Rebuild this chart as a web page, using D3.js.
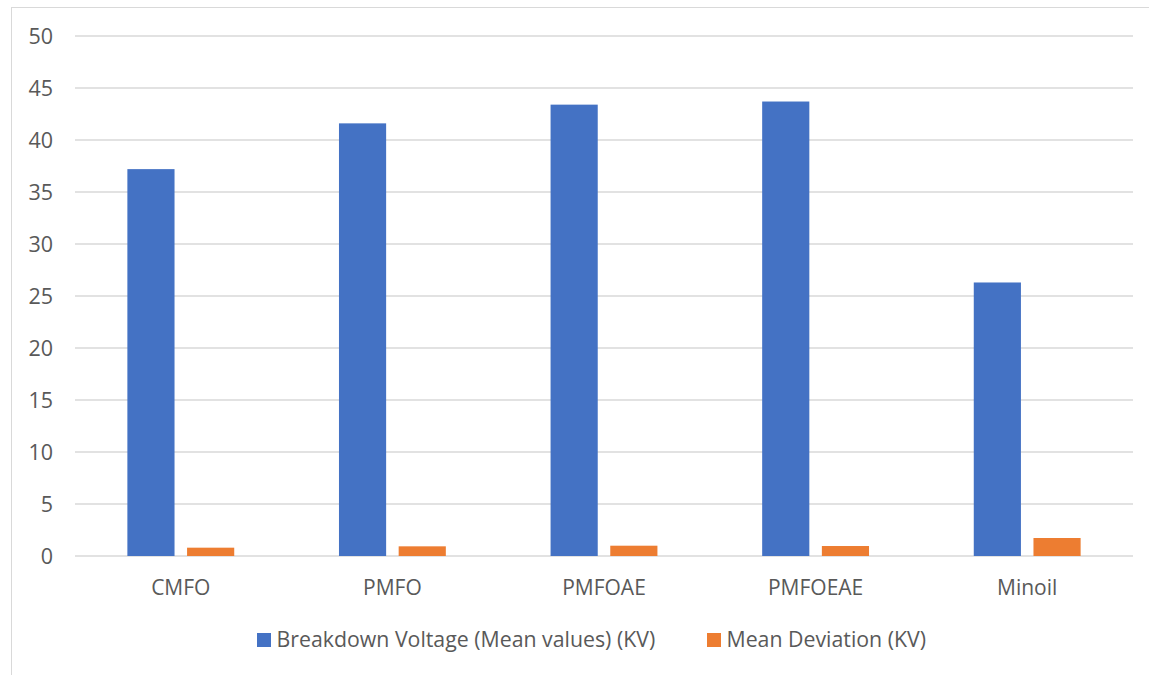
<!DOCTYPE html>
<html>
<head>
<meta charset="utf-8">
<script src="https://cdn.jsdelivr.net/npm/d3@7"></script>
<style>
  html, body { margin: 0; padding: 0; background: #fff; }
  svg { display: block; }
  text { font-family: "Open Sans", Lato, sans-serif; fill: #595959; }
</style>
</head>
<body>
<svg id="chart" width="1149" height="675"></svg>
<script>
// Oil samples compared
const categories = ["CMFO", "PMFO", "PMFOAE", "PMFOEAE", "Minoil"];
const seriesNames = ["Breakdown Voltage (Mean values) (KV)", "Mean Deviation (KV)"];
const breakdownVoltage = [37.2, 41.6, 43.4, 43.7, 26.3];
const meanDeviation = [0.8, 0.93, 0.99, 0.96, 1.73];
const yTicks = [0, 5, 10, 15, 20, 25, 30, 35, 40, 45, 50];
const colors = ["#4472C4", "#ED7D31"];

const seriesValues = [breakdownVoltage, meanDeviation];

const svg = d3.select("#chart");

// chart frame
svg.append("rect")
  .attr("x", 11.5).attr("y", 7.5)
  .attr("width", 1160).attr("height", 700)
  .attr("fill", "none").attr("stroke", "#d9d9d9").attr("stroke-width", 1);

const plot = { left: 75, right: 1133, top: 36, bottom: 556 };

const y = d3.scaleLinear().domain([0, 50]).range([plot.bottom, plot.top]);

const x0 = d3.scaleBand()
  .domain(categories)
  .range([plot.left, plot.right])
  .paddingInner(0.495)
  .paddingOuter(0.2475);

const x1 = d3.scaleBand()
  .domain(seriesNames)
  .range([0, x0.bandwidth()])
  .paddingInner(0.21)
  .paddingOuter(0);

// horizontal gridlines
svg.append("g")
  .selectAll("line")
  .data(yTicks)
  .join("line")
  .attr("x1", plot.left).attr("x2", plot.right)
  .attr("y1", d => y(d)).attr("y2", d => y(d))
  .attr("stroke", "#d9d9d9").attr("stroke-width", 1.3);

// y tick labels
svg.append("g")
  .selectAll("text")
  .data(yTicks)
  .join("text")
  .attr("x", 53)
  .attr("y", d => y(d))
  .attr("dy", "0.36em")
  .attr("text-anchor", "end")
  .attr("font-size", 21.5)
  .text(d => d);

// bars
const groups = svg.append("g")
  .selectAll("g")
  .data(categories)
  .join("g")
  .attr("transform", d => `translate(${x0(d)},0)`);

groups.selectAll("rect")
  .data((c, i) => seriesNames.map((s, k) => ({ series: s, k, value: seriesValues[k][i] })))
  .join("rect")
  .attr("x", d => x1(d.series))
  .attr("width", x1.bandwidth())
  .attr("y", d => y(d.value))
  .attr("height", d => y(0) - y(d.value))
  .attr("fill", d => colors[d.k]);

// category labels
svg.append("g")
  .selectAll("text")
  .data(categories)
  .join("text")
  .attr("x", d => x0(d) + x0.bandwidth() / 2)
  .attr("y", 595)
  .attr("text-anchor", "middle")
  .attr("font-size", 21)
  .text(d => d);

// legend
const legendItems = [
  { name: seriesNames[0], color: colors[0], x: 257 },
  { name: seriesNames[1], color: colors[1], x: 707 }
];
const legend = svg.append("g")
  .selectAll("g")
  .data(legendItems)
  .join("g")
  .attr("transform", d => `translate(${d.x},0)`);
legend.append("rect")
  .attr("x", 0).attr("y", 633)
  .attr("width", 14).attr("height", 14)
  .attr("fill", d => d.color);
legend.append("text")
  .attr("x", 19.5).attr("y", 647)
  .attr("font-size", 21.3)
  .text(d => d.name);
</script>
</body>
</html>
